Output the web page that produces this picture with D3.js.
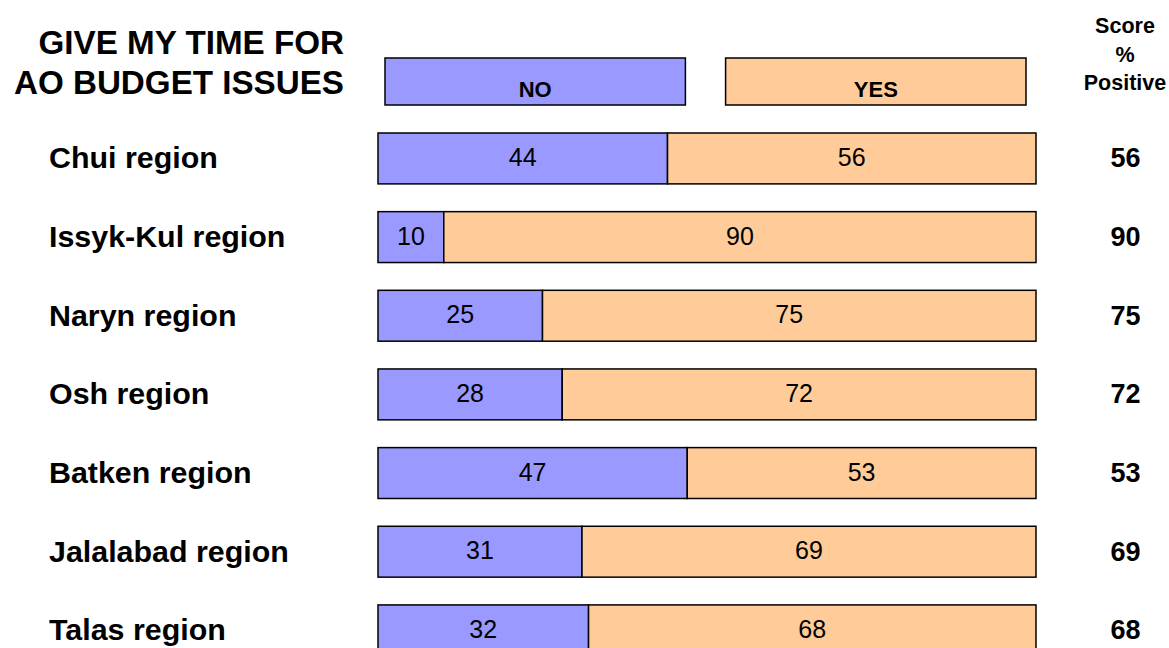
<!DOCTYPE html>
<html>
<head>
<meta charset="utf-8">
<script src="https://cdn.jsdelivr.net/npm/d3@7/dist/d3.min.js"></script>
<style>
  html, body { margin: 0; padding: 0; background: #fff; }
  svg { display: block; font-family: "Liberation Sans", Arial, sans-serif; }
</style>
</head>
<body>
<svg id="chart" width="1169" height="648"></svg>
<script>
// Regions and share of answers (%)
const regions = ["Chui region", "Issyk-Kul region", "Naryn region", "Osh region",
                 "Batken region", "Jalalabad region", "Talas region"];
const noValues  = [44, 10, 25, 28, 47, 31, 32];
const yesValues = [56, 90, 75, 72, 53, 69, 68];
const scores    = [56, 90, 75, 72, 53, 69, 68];
const titleLines = ["GIVE MY TIME FOR", "AO BUDGET ISSUES"];
const scoreHeader = ["Score", "%", "Positive"];
const legendKeys = ["NO", "YES"];

const colors = { NO: "#9999FF", YES: "#FFCC99" };

const svg = d3.select("#chart");

const x = d3.scaleLinear().domain([0, 100]).range([378, 1036]);
const y = d3.scaleBand().domain(regions).range([133, 655.8]).paddingInner(0.353).paddingOuter(0);

// Title
svg.append("g").selectAll("text").data(titleLines).join("text")
  .attr("x", 344)
  .attr("y", (d, i) => 53.5 + i * 40)
  .attr("text-anchor", "end")
  .attr("font-size", 33.2)
  .attr("font-weight", "bold")
  .text(d => d);

// Legend boxes
const legendX = d3.scaleBand().domain(legendKeys).range([385, 1026]).paddingInner(0.118);
const legend = svg.append("g").selectAll("g").data(legendKeys).join("g");
legend.append("rect")
  .attr("x", d => legendX(d))
  .attr("y", 58)
  .attr("width", legendX.bandwidth())
  .attr("height", 47)
  .attr("fill", d => colors[d])
  .attr("stroke", "#000")
  .attr("stroke-width", 1.5);
legend.append("text")
  .attr("x", d => legendX(d) + legendX.bandwidth() / 2)
  .attr("y", 97)
  .attr("text-anchor", "middle")
  .attr("font-size", 22)
  .attr("font-weight", "bold")
  .text(d => d);

// Score column header
svg.append("g").selectAll("text").data(scoreHeader).join("text")
  .attr("x", 1125)
  .attr("y", (d, i) => [33, 62, 90][i])
  .attr("text-anchor", "middle")
  .attr("font-size", 21.5)
  .attr("font-weight", "bold")
  .text(d => d);

const rows = regions.map((r, i) => ({ region: r, no: noValues[i], yes: yesValues[i], score: scores[i] }));

const row = svg.append("g").selectAll("g").data(rows).join("g");

// Category labels
row.append("text")
  .attr("x", 49)
  .attr("y", d => y(d.region) + y.bandwidth() / 2 + 10)
  .attr("font-size", 30.4)
  .attr("font-weight", "bold")
  .text(d => d.region);

// NO segment
row.append("rect")
  .attr("x", x(0))
  .attr("y", d => y(d.region))
  .attr("width", d => x(d.no) - x(0))
  .attr("height", y.bandwidth())
  .attr("fill", colors.NO)
  .attr("stroke", "#000")
  .attr("stroke-width", 1.5);

// YES segment
row.append("rect")
  .attr("x", d => x(d.no))
  .attr("y", d => y(d.region))
  .attr("width", d => x(d.no + d.yes) - x(d.no))
  .attr("height", y.bandwidth())
  .attr("fill", colors.YES)
  .attr("stroke", "#000")
  .attr("stroke-width", 1.5);

// Segment values
row.append("text")
  .attr("x", d => (x(0) + x(d.no)) / 2)
  .attr("y", d => y(d.region) + y.bandwidth() / 2 + 7.5)
  .attr("text-anchor", "middle")
  .attr("font-size", 25)
  .text(d => d.no);
row.append("text")
  .attr("x", d => (x(d.no) + x(d.no + d.yes)) / 2)
  .attr("y", d => y(d.region) + y.bandwidth() / 2 + 7.5)
  .attr("text-anchor", "middle")
  .attr("font-size", 25)
  .text(d => d.yes);

// Score values
row.append("text")
  .attr("x", 1125.5)
  .attr("y", d => y(d.region) + y.bandwidth() / 2 + 9)
  .attr("text-anchor", "middle")
  .attr("font-size", 27)
  .attr("font-weight", "bold")
  .text(d => d.score);
</script>
</body>
</html>
